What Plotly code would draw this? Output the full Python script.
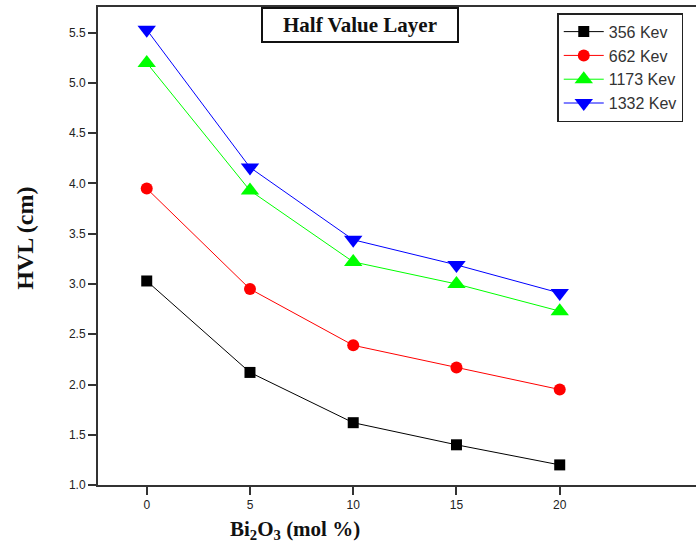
import plotly.graph_objects as go

x_vals = [0, 5, 10, 15, 20]
series_names = ["356 Kev", "662 Kev", "1173 Kev", "1332 Kev"]
hvl_356 = [3.03, 2.12, 1.62, 1.40, 1.20]
hvl_662 = [3.95, 2.95, 2.39, 2.17, 1.95]
hvl_1173 = [5.20, 3.93, 3.22, 3.00, 2.73]
hvl_1332 = [5.53, 4.16, 3.44, 3.19, 2.91]
y_ticks = [1.0, 1.5, 2.0, 2.5, 3.0, 3.5, 4.0, 4.5, 5.0, 5.5]
x_ticks = [0, 5, 10, 15, 20]

colors = ["#000000", "#ff0000", "#00ff00", "#0000ff"]
symbols = ["square", "circle", "triangle-up", "triangle-down"]
sizes = [11, 12, 16, 16]
data = [hvl_356, hvl_662, hvl_1173, hvl_1332]

fig = go.Figure()
for name, ys, c, s, sz in zip(series_names, data, colors, symbols, sizes):
    fig.add_trace(go.Scatter(
        x=x_vals, y=ys, name=name, mode="lines+markers",
        line=dict(color=c, width=1),
        marker=dict(symbol=s, size=sz, color=c, line=dict(width=0)),
    ))

tick_font = dict(family="Liberation Sans, Arial", size=12, color="#222")
fig.update_layout(
    width=696, height=557,
    margin=dict(l=98, r=0, t=7, b=72),
    paper_bgcolor="white", plot_bgcolor="white",
    showlegend=True,
    legend=dict(
        x=0.768, y=0.987, xanchor="left", yanchor="top",
        bordercolor="#222", borderwidth=1.5, bgcolor="white",
        font=dict(family="Liberation Sans, Arial", size=16, color="#333"),
        itemwidth=40, tracegroupgap=0,
    ),
    xaxis=dict(
        range=[-2.36, 26.6], tickvals=x_ticks, ticktext=[str(v) for v in x_ticks],
        showgrid=False, zeroline=False, showline=True, linecolor="#333", linewidth=2,
        mirror=True, ticks="outside", ticklen=8, tickwidth=2, tickcolor="#333",
        tickfont=tick_font,
    ),
    yaxis=dict(
        range=[1.0, 5.756], tickvals=y_ticks, ticktext=[f"{v:.1f}" for v in y_ticks],
        showgrid=False, zeroline=False, showline=True, linecolor="#333", linewidth=2,
        mirror=False, ticks="outside", ticklen=8, tickwidth=2, tickcolor="#333",
        tickfont=tick_font,
    ),
    annotations=[
        dict(text="<b>Half Value Layer</b>", xref="paper", yref="paper",
             x=0.438, y=1.0, xanchor="center", yanchor="top", showarrow=False,
             font=dict(family="Liberation Serif, Times New Roman", size=21, color="#111"),
             bordercolor="#111", borderwidth=2, borderpad=4, width=186, height=24,
             bgcolor="white"),
        dict(text="<b>HVL (cm)</b>", xref="paper", yref="paper",
             x=-0.122, y=0.515, xanchor="center", yanchor="middle", showarrow=False,
             textangle=-90,
             font=dict(family="Liberation Serif, Times New Roman", size=24, color="#111")),
        dict(text="<b>Bi<sub>2</sub>O<sub>3</sub> (mol %)</b>", xref="paper", yref="paper",
             x=(295 - 98) / 598, y=-0.095, xanchor="center", yanchor="middle", showarrow=False,
             font=dict(family="Liberation Serif, Times New Roman", size=21, color="#111")),
    ],
)

fig.write_html("out.html", config={"displayModeBar": False},
               post_script="document.body.style.margin='0px';")
